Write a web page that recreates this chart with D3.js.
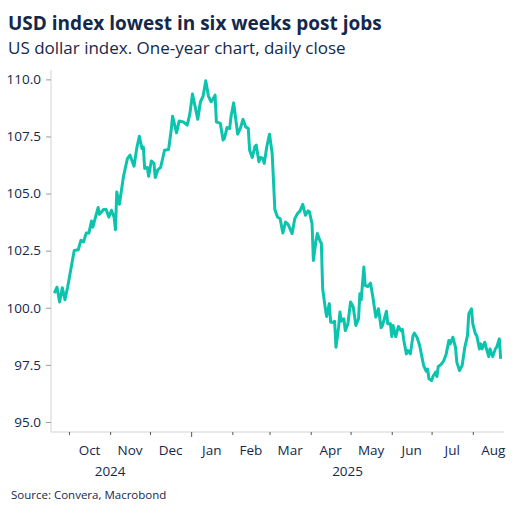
<!DOCTYPE html>
<html>
<head>
<meta charset="utf-8">
<script src="https://cdn.jsdelivr.net/npm/d3@7"></script>
<style>
  body { margin: 0; background: #fff; }
  svg { display: block; font-family: "Open Sans", "Noto Sans", sans-serif; }
</style>
</head>
<body>
<div id="chart"></div>
<script>
// daily close
var dates = [
  "2024-09-20","2024-09-22","2024-09-24","2024-09-26","2024-09-28","2024-09-30",
  "2024-10-05","2024-10-08","2024-10-10","2024-10-12","2024-10-14","2024-10-16",
  "2024-10-18","2024-10-19","2024-10-21","2024-10-23","2024-10-24","2024-10-27",
  "2024-10-29","2024-10-31","2024-11-02","2024-11-04","2024-11-05","2024-11-06",
  "2024-11-08","2024-11-11","2024-11-14","2024-11-16","2024-11-19","2024-11-21",
  "2024-11-23","2024-11-25","2024-11-26","2024-11-27","2024-11-29","2024-11-30",
  "2024-12-02","2024-12-04","2024-12-05","2024-12-07","2024-12-09","2024-12-12",
  "2024-12-15","2024-12-17","2024-12-18","2024-12-21","2024-12-23","2024-12-26",
  "2024-12-29","2024-12-31","2025-01-02","2025-01-04","2025-01-06","2025-01-08",
  "2025-01-10","2025-01-12","2025-01-14","2025-01-16","2025-01-17","2025-01-19",
  "2025-01-20","2025-01-23","2025-01-25","2025-01-26","2025-01-28","2025-01-30",
  "2025-01-31","2025-02-02","2025-02-04","2025-02-05","2025-02-07","2025-02-09",
  "2025-02-11","2025-02-13","2025-02-14","2025-02-16","2025-02-18","2025-02-19",
  "2025-02-21","2025-02-22","2025-02-24","2025-02-25","2025-02-27","2025-03-01",
  "2025-03-03","2025-03-05","2025-03-07","2025-03-09","2025-03-11","2025-03-13",
  "2025-03-15","2025-03-18","2025-03-20","2025-03-22","2025-03-24","2025-03-26",
  "2025-03-28","2025-03-30","2025-03-31","2025-04-02","2025-04-03","2025-04-05",
  "2025-04-06","2025-04-08","2025-04-09","2025-04-10","2025-04-12","2025-04-13",
  "2025-04-15","2025-04-16","2025-04-18","2025-04-19","2025-04-20","2025-04-22",
  "2025-04-23","2025-04-24","2025-04-26","2025-04-27","2025-04-29","2025-05-01",
  "2025-05-03","2025-05-05","2025-05-07","2025-05-08","2025-05-09","2025-05-11",
  "2025-05-12","2025-05-14","2025-05-16","2025-05-18","2025-05-20","2025-05-22",
  "2025-05-24","2025-05-25","2025-05-28","2025-05-29","2025-05-31","2025-06-01",
  "2025-06-02","2025-06-04","2025-06-06","2025-06-08","2025-06-09","2025-06-10",
  "2025-06-12","2025-06-13","2025-06-15","2025-06-17","2025-06-18","2025-06-20",
  "2025-06-22","2025-06-24","2025-06-25","2025-06-27","2025-06-28","2025-06-29",
  "2025-07-01","2025-07-02","2025-07-04","2025-07-05","2025-07-06","2025-07-08",
  "2025-07-10","2025-07-12","2025-07-14","2025-07-15","2025-07-17","2025-07-19",
  "2025-07-20","2025-07-22","2025-07-24","2025-07-26","2025-07-28","2025-07-29",
  "2025-07-31","2025-08-01","2025-08-03","2025-08-04","2025-08-06","2025-08-07",
  "2025-08-08","2025-08-10","2025-08-11","2025-08-13","2025-08-14","2025-08-16",
  "2025-08-18","2025-08-19","2025-08-21","2025-08-22"
];
var values = [
  100.64,100.90,100.25,100.88,100.35,100.90,
  102.51,102.54,102.95,102.88,103.27,103.27,
  103.80,103.53,103.97,104.39,104.09,104.30,
  104.30,103.97,104.27,103.97,103.42,105.07,
  104.53,105.73,106.53,106.68,106.20,106.97,
  107.51,106.97,107.04,106.10,106.14,105.76,
  106.43,106.32,105.70,106.05,106.14,106.90,
  106.93,107.78,108.39,107.66,108.18,108.14,
  108.00,108.48,109.36,108.80,108.25,109.02,
  109.27,109.94,109.27,109.02,109.09,109.31,
  108.14,108.07,107.34,107.41,107.89,107.85,
  108.36,108.97,108.07,107.60,107.85,108.25,
  107.92,107.85,106.90,106.58,107.07,107.12,
  106.39,106.58,106.54,106.32,107.07,107.60,
  106.75,104.30,103.97,103.90,103.27,103.75,
  103.65,103.25,103.90,104.12,104.24,104.53,
  104.05,104.24,104.20,103.68,102.07,102.95,
  103.25,102.92,102.83,100.83,99.96,99.62,
  100.18,99.37,99.37,99.41,98.27,99.15,
  99.81,99.41,99.52,99.00,99.30,100.25,
  100.03,99.22,99.52,100.61,100.35,101.78,
  100.98,100.93,101.08,100.39,99.59,99.96,
  99.12,99.22,99.85,99.30,99.30,98.74,
  99.22,98.74,99.18,99.00,99.06,98.60,
  97.98,98.13,97.98,98.78,98.89,98.71,
  98.35,97.76,97.47,97.22,97.32,96.89,
  96.81,96.99,97.18,96.99,97.43,97.51,
  97.66,97.98,98.57,98.42,98.71,98.27,
  97.61,97.25,97.47,98.27,98.78,99.74,
  99.95,99.30,98.86,98.78,98.20,98.42,
  98.20,98.49,98.27,97.86,98.20,97.86,
  98.20,98.27,98.64,97.76
];
var yTicks = [95, 97.5, 100, 102.5, 105, 107.5, 110];
var monthTicks = ["2024-10-01","2024-11-01","2024-12-01","2025-01-01","2025-02-01","2025-03-01",
                  "2025-04-01","2025-05-01","2025-06-01","2025-07-01","2025-08-01"];
var monthLabels = ["Oct","Nov","Dec","Jan","Feb","Mar","Apr","May","Jun","Jul","Aug"];
var years = ["2024", "2025"];

var parse = d3.utcParse("%Y-%m-%d");
var data = dates.map(function(d, i) { return {date: parse(d), value: values[i]}; });

var W = 520, H = 513;
var navy = "#14284b";
var plotLeft = 51, plotRight = 504, plotTop = 70, plotBottom = 432;

var svg = d3.select("#chart").append("svg")
  .attr("width", W).attr("height", H);

svg.append("text")
  .attr("x", 8).attr("y", 30)
  .attr("fill", navy)
  .attr("font-size", 19).attr("font-weight", 700)
  .text("USD index lowest in six weeks post jobs");

svg.append("text")
  .attr("x", 8).attr("y", 54)
  .attr("fill", navy)
  .attr("font-size", 17)
  .text("US dollar index. One-year chart, daily close");

var x = d3.scaleUtc()
  .domain([new Date(Date.UTC(2024, 8, 17, 12)), new Date(Date.UTC(2025, 7, 24, 12))])
  .range([plotLeft, plotRight]);

var y = d3.scaleLinear()
  .domain([94.56, 110.41])
  .range([plotBottom, plotTop]);

// y axis
var yAxis = svg.append("g")
  .attr("transform", "translate(" + plotLeft + ",0)")
  .call(d3.axisLeft(y).tickValues(yTicks).tickFormat(d3.format(".1f")).tickSize(5).tickPadding(5));
yAxis.select(".domain").attr("stroke", "#d3d3d3").attr("d", "M0," + plotTop + "V" + plotBottom);
yAxis.selectAll(".tick line").attr("stroke", "#9a9a9a");
yAxis.selectAll("text").attr("fill", navy).attr("font-size", 13.5)
  .attr("font-family", "'Open Sans', sans-serif");

// x axis
var xAxis = svg.append("g")
  .attr("transform", "translate(0," + plotBottom + ")")
  .call(d3.axisBottom(x).tickValues(monthTicks.map(parse)).tickFormat("").tickSize(3));
xAxis.select(".domain").attr("stroke", "#d3d3d3").attr("d", "M" + plotLeft + ",0H" + plotRight);
xAxis.selectAll(".tick line")
  .attr("stroke", "#555")
  .attr("y2", function(d) { return d.getUTCMonth() === 0 ? 5 : 3; });

// month labels centred in each month
svg.append("g").selectAll("text")
  .data(monthTicks)
  .join("text")
  .attr("x", function(d) {
    var s = parse(d);
    var e = d3.utcMonth.offset(s, 1);
    return x(new Date((+s + +e) / 2));
  })
  .attr("y", 455)
  .attr("text-anchor", "middle")
  .attr("fill", navy)
  .attr("font-size", 13.5)
  .text(function(d, i) { return monthLabels[i]; });

svg.append("text")
  .attr("x", x(parse("2024-11-01"))).attr("y", 476)
  .attr("text-anchor", "middle").attr("fill", navy).attr("font-size", 13.5)
  .text(years[0]);
svg.append("text")
  .attr("x", (x(parse("2025-01-01")) + plotRight) / 2).attr("y", 476)
  .attr("text-anchor", "middle").attr("fill", navy).attr("font-size", 13.5)
  .text(years[1]);

// the line
var line = d3.line()
  .x(function(d) { return x(d.date); })
  .y(function(d) { return y(d.value); });

svg.append("path")
  .datum(data)
  .attr("fill", "none")
  .attr("stroke", "#0cc4ae")
  .attr("stroke-width", 3)
  .attr("stroke-linejoin", "round")
  .attr("d", line);

svg.append("text")
  .attr("x", 11).attr("y", 499)
  .attr("fill", navy)
  .attr("font-size", 11.5)
  .text("Source: Convera, Macrobond");
</script>
</body>
</html>
